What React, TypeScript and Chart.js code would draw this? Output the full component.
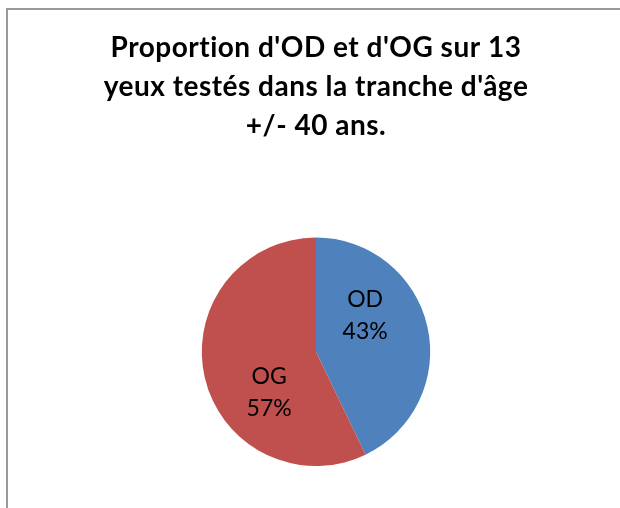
import React, { useEffect, useRef } from "react";
import { Chart, registerables } from "chart.js";

Chart.register(...registerables);

const categories = ["OD", "OG"];
const values = [3, 4];
const titleLines = [
  "Proportion d'OD et d'OG sur 13",
  "yeux testés dans la tranche d'âge",
  "+/- 40 ans.",
];
const colors = ["#4F81BD", "#C0504D"];
// label placement relative to pie centre, as fraction of radius
const labelOffsets = [
  [0.43, -0.32],
  [-0.41, 0.36],
];

const spacingPlugin = {
  id: "titleSpacing",
  beforeDraw(chart: any) {
    (chart.ctx as any).letterSpacing = "0.5px";
  },
};

const labelPlugin = {
  id: "sliceLabels",
  afterDatasetsDraw(chart: any) {
    const ctx = chart.ctx;
    const meta = chart.getDatasetMeta(0);
    const data = chart.data.datasets[0].data as number[];
    const total = data.reduce((a, b) => a + b, 0);
    ctx.save();
    (ctx as any).letterSpacing = "0px";
    ctx.fillStyle = "#000";
    ctx.font = "23px Lato";
    ctx.textAlign = "center";
    ctx.textBaseline = "middle";
    meta.data.forEach((arc: any, i: number) => {
      const r = arc.outerRadius;
      const x = arc.x + labelOffsets[i][0] * r;
      const y = arc.y + labelOffsets[i][1] * r;
      const pct = Math.round((data[i] / total) * 100) + "%";
      ctx.fillText(String(chart.data.labels[i]), x, y - 16);
      ctx.fillText(pct, x, y + 16);
    });
    ctx.restore();
  },
};

export default function App() {
  const ref = useRef<HTMLCanvasElement | null>(null);
  useEffect(() => {
    if (!ref.current) return;
    const chart = new Chart(ref.current, {
      type: "pie",
      data: {
        labels: categories,
        datasets: [
          {
            data: values,
            backgroundColor: colors,
            borderWidth: 0,
          },
        ],
      },
      options: {
        animation: false,
        responsive: false,
        layout: { padding: { left: 12, right: 0, top: 0, bottom: 42 } },
        plugins: {
          legend: { display: false },
          tooltip: { enabled: false },
          title: {
            display: true,
            text: titleLines,
            color: "#000",
            font: { family: "Lato", size: 28, weight: "bold", lineHeight: 1.4 },
            padding: { top: 28, bottom: 92 },
          },
        },
      },
      plugins: [spacingPlugin, labelPlugin],
    });
    return () => chart.destroy();
  }, []);
  return (
    <div
      style={{
        position: "fixed",
        left: 0,
        top: 0,
        width: 620,
        height: 508,
        background: "#fff",
        overflow: "hidden",
      }}
    >
      <canvas ref={ref} width={620} height={508} style={{ position: "absolute", left: 0, top: 0 }} />
      <div
        style={{
          position: "absolute",
          left: 6,
          top: 8,
          width: 700,
          height: 600,
          borderLeft: "2px solid #999",
          borderTop: "2px solid #999",
          pointerEvents: "none",
        }}
      />
    </div>
  );
}
